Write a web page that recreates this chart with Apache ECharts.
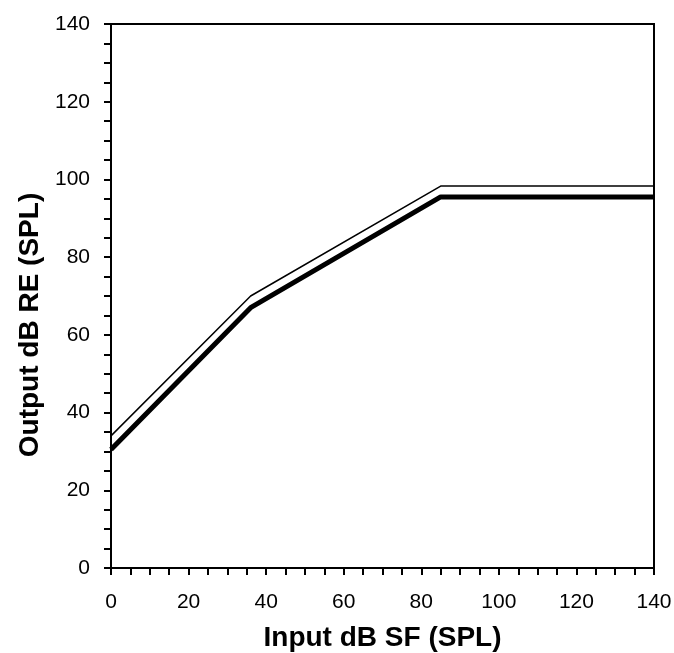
<!DOCTYPE html>
<html>
<head>
<meta charset="utf-8">
<script src="https://cdn.jsdelivr.net/npm/echarts@6/dist/echarts.min.js"></script>
<style>
html,body{margin:0;padding:0;background:#fff;}
#chart{width:674px;height:653px;}
</style>
</head>
<body>
<div id="chart"></div>
<script>
// Data
const inputX = [0, 36, 85, 140];
const upperOutput = [34, 70, 98.3, 98.3];
const lowerOutput = [30.5, 67, 95.5, 95.5];
const xTitle = 'Input dB SF (SPL)';
const yTitle = 'Output dB RE (SPL)';

const toPairs = (xs, ys) => xs.map((x, i) => [x, ys[i]]);

const chart = echarts.init(document.getElementById('chart'));
const axisCommon = {
  type: 'value',
  min: 0, max: 140, interval: 20,
  splitNumber: 7,
  axisLine: { show: true, lineStyle: { color: '#000', width: 2 } },
  axisTick: { show: true, inside: false, length: 7, lineStyle: { color: '#000', width: 2 } },
  minorTick: { show: true, splitNumber: 4, length: 7, lineStyle: { color: '#000', width: 2 } },
  splitLine: { show: false },
  axisLabel: { color: '#000', fontFamily: 'Liberation Sans', fontSize: 21 },
  nameLocation: 'middle',
  nameTextStyle: { color: '#000', fontFamily: 'Liberation Sans', fontWeight: 'bold', fontSize: 28 }
};
chart.setOption({
  animation: false,
  backgroundColor: '#fff',
  grid: { left: 111, top: 24, right: 20, bottom: 85, show: true, borderColor: '#000', borderWidth: 2,
          containLabel: false, outerBoundsMode: 'none' },
  xAxis: Object.assign({}, axisCommon, {
    name: xTitle, nameGap: 56,
    axisLabel: Object.assign({}, axisCommon.axisLabel, { margin: 24 })
  }),
  yAxis: Object.assign({}, axisCommon, {
    name: yTitle, nameGap: 66,
    axisLabel: Object.assign({}, axisCommon.axisLabel, { margin: 21 }),
    nameTextStyle: Object.assign({}, axisCommon.nameTextStyle, { padding: [0, 58, 0, 0] })
  }),
  series: [
    { type: 'line', data: toPairs(inputX, upperOutput), symbol: 'none',
      lineStyle: { color: '#000', width: 1.5 } },
    { type: 'line', data: toPairs(inputX, lowerOutput), symbol: 'none',
      lineStyle: { color: '#000', width: 5 } }
  ]
});
</script>
</body>
</html>
